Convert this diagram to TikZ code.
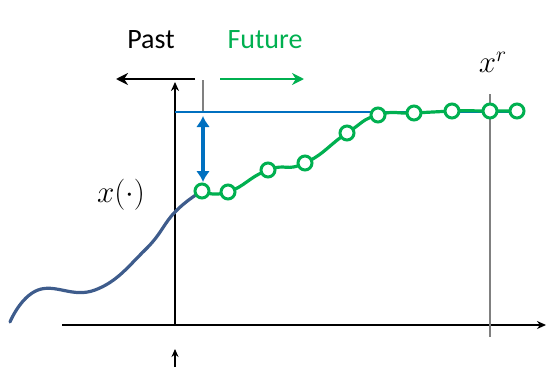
\documentclass[tikz,border=0pt]{standalone}
\usepackage{fontspec}
\setmainfont{Carlito}
\usetikzlibrary{arrows.meta}
\definecolor{futgreen}{RGB}{0,176,80}
\definecolor{refblue}{RGB}{0,112,192}
\definecolor{pastblue}{RGB}{62,92,140}
\begin{document}
\begin{tikzpicture}[x=1pt, y=-1pt,
    axis/.style={line width=2.8pt, black},
    guide/.style={line width=1.3pt, black!50},
    dot/.style={circle, draw=futgreen, fill=white, line width=3pt, minimum size=14pt, inner sep=0pt},
    lbl/.style={font=\fontsize{28}{30}\selectfont},
    mlbl/.style={font=\fontsize{20.74}{22}\selectfont, scale=1.5}]
  \useasboundingbox (0,0) rectangle (546,367);

  % Axes
  \coordinate (o) at (175,325);
  \coordinate (ytop) at (175,82);
  \coordinate (xend) at (546,325);
  \coordinate (xbeg) at (62,325);
  \draw[axis, -{Stealth[length=9pt,width=8pt]}] (xbeg) -- (xend);
  \draw[axis, -{Stealth[length=9pt,width=8pt]}] (o) -- (ytop);
  \coordinate (nowlo) at (175,367);
  \coordinate (nowhi) at (175,349);
  \draw[line width=1.5pt, -{Stealth[length=8pt,width=7pt]}] (nowlo) -- (nowhi);

  % Guide lines
  \coordinate (g1top) at (203,80);
  \coordinate (g1bot) at (203,112);
  \draw[guide] (g1top) -- (g1bot);
  \coordinate (g2top) at (490,94);
  \coordinate (g2bot) at (490,337);
  \draw[guide] (g2top) -- (g2bot);

  % Reference level
  \coordinate (rl) at (175,112);
  \coordinate (rr) at (515,112);
  \draw[refblue, line width=2.6pt] (rl) -- (rr);

  % Past / Future labels
  \node[lbl] (past) at (151,40) {Past};
  \node[lbl, text=futgreen] (future) at (265,40) {Future};
  \coordinate (pa) at (195,79);
  \coordinate (pb) at (116,79);
  \draw[line width=2.8pt, -{Stealth[length=12pt,width=12pt]}] (pa) -- (pb);
  \coordinate (fa) at (220,79);
  \coordinate (fb) at (304,79);
  \draw[futgreen, line width=2.8pt, -{Stealth[length=12pt,width=12pt]}] (fa) -- (fb);

  % Past trajectory
  \draw[pastblue, line width=3.2pt, line cap=round] plot[smooth, tension=0.75] coordinates
    {(10,322) (38,290) (95,290) (145,250) (175,212) (202,191)};

  % Predicted trajectory
  \coordinate (f1) at (202,191);
  \coordinate (f2) at (228,192);
  \coordinate (f3) at (268,170);
  \coordinate (f4) at (305,163);
  \coordinate (f5) at (347,133);
  \coordinate (f6) at (378,115);
  \coordinate (f7) at (414,113);
  \coordinate (f8) at (452,111);
  \coordinate (f9) at (490,111);
  \coordinate (f10) at (517,111);
  \draw[futgreen, line width=3.2pt] plot[smooth, tension=0.9] coordinates
    {(f1) (f2) (f3) (f4) (f5) (f6) (f7) (f8) (f9) (f10)};
  \foreach \i in {1,...,10} \node[dot] (d\i) at (f\i) {};

  % Gap arrow
  \coordinate (ga) at (203,116);
  \coordinate (gb) at (203,182);
  \draw[refblue, line width=3.2pt, {Latex[length=11pt,width=14pt]}-{Latex[length=11pt,width=14pt]}] (ga) -- (gb);

  % Math labels
  \node[mlbl] (xlab) at (121,195) {$x(\cdot)$};
  \node[mlbl] (xref) at (493,62) {$x^{r}$};
\end{tikzpicture}
\end{document}
